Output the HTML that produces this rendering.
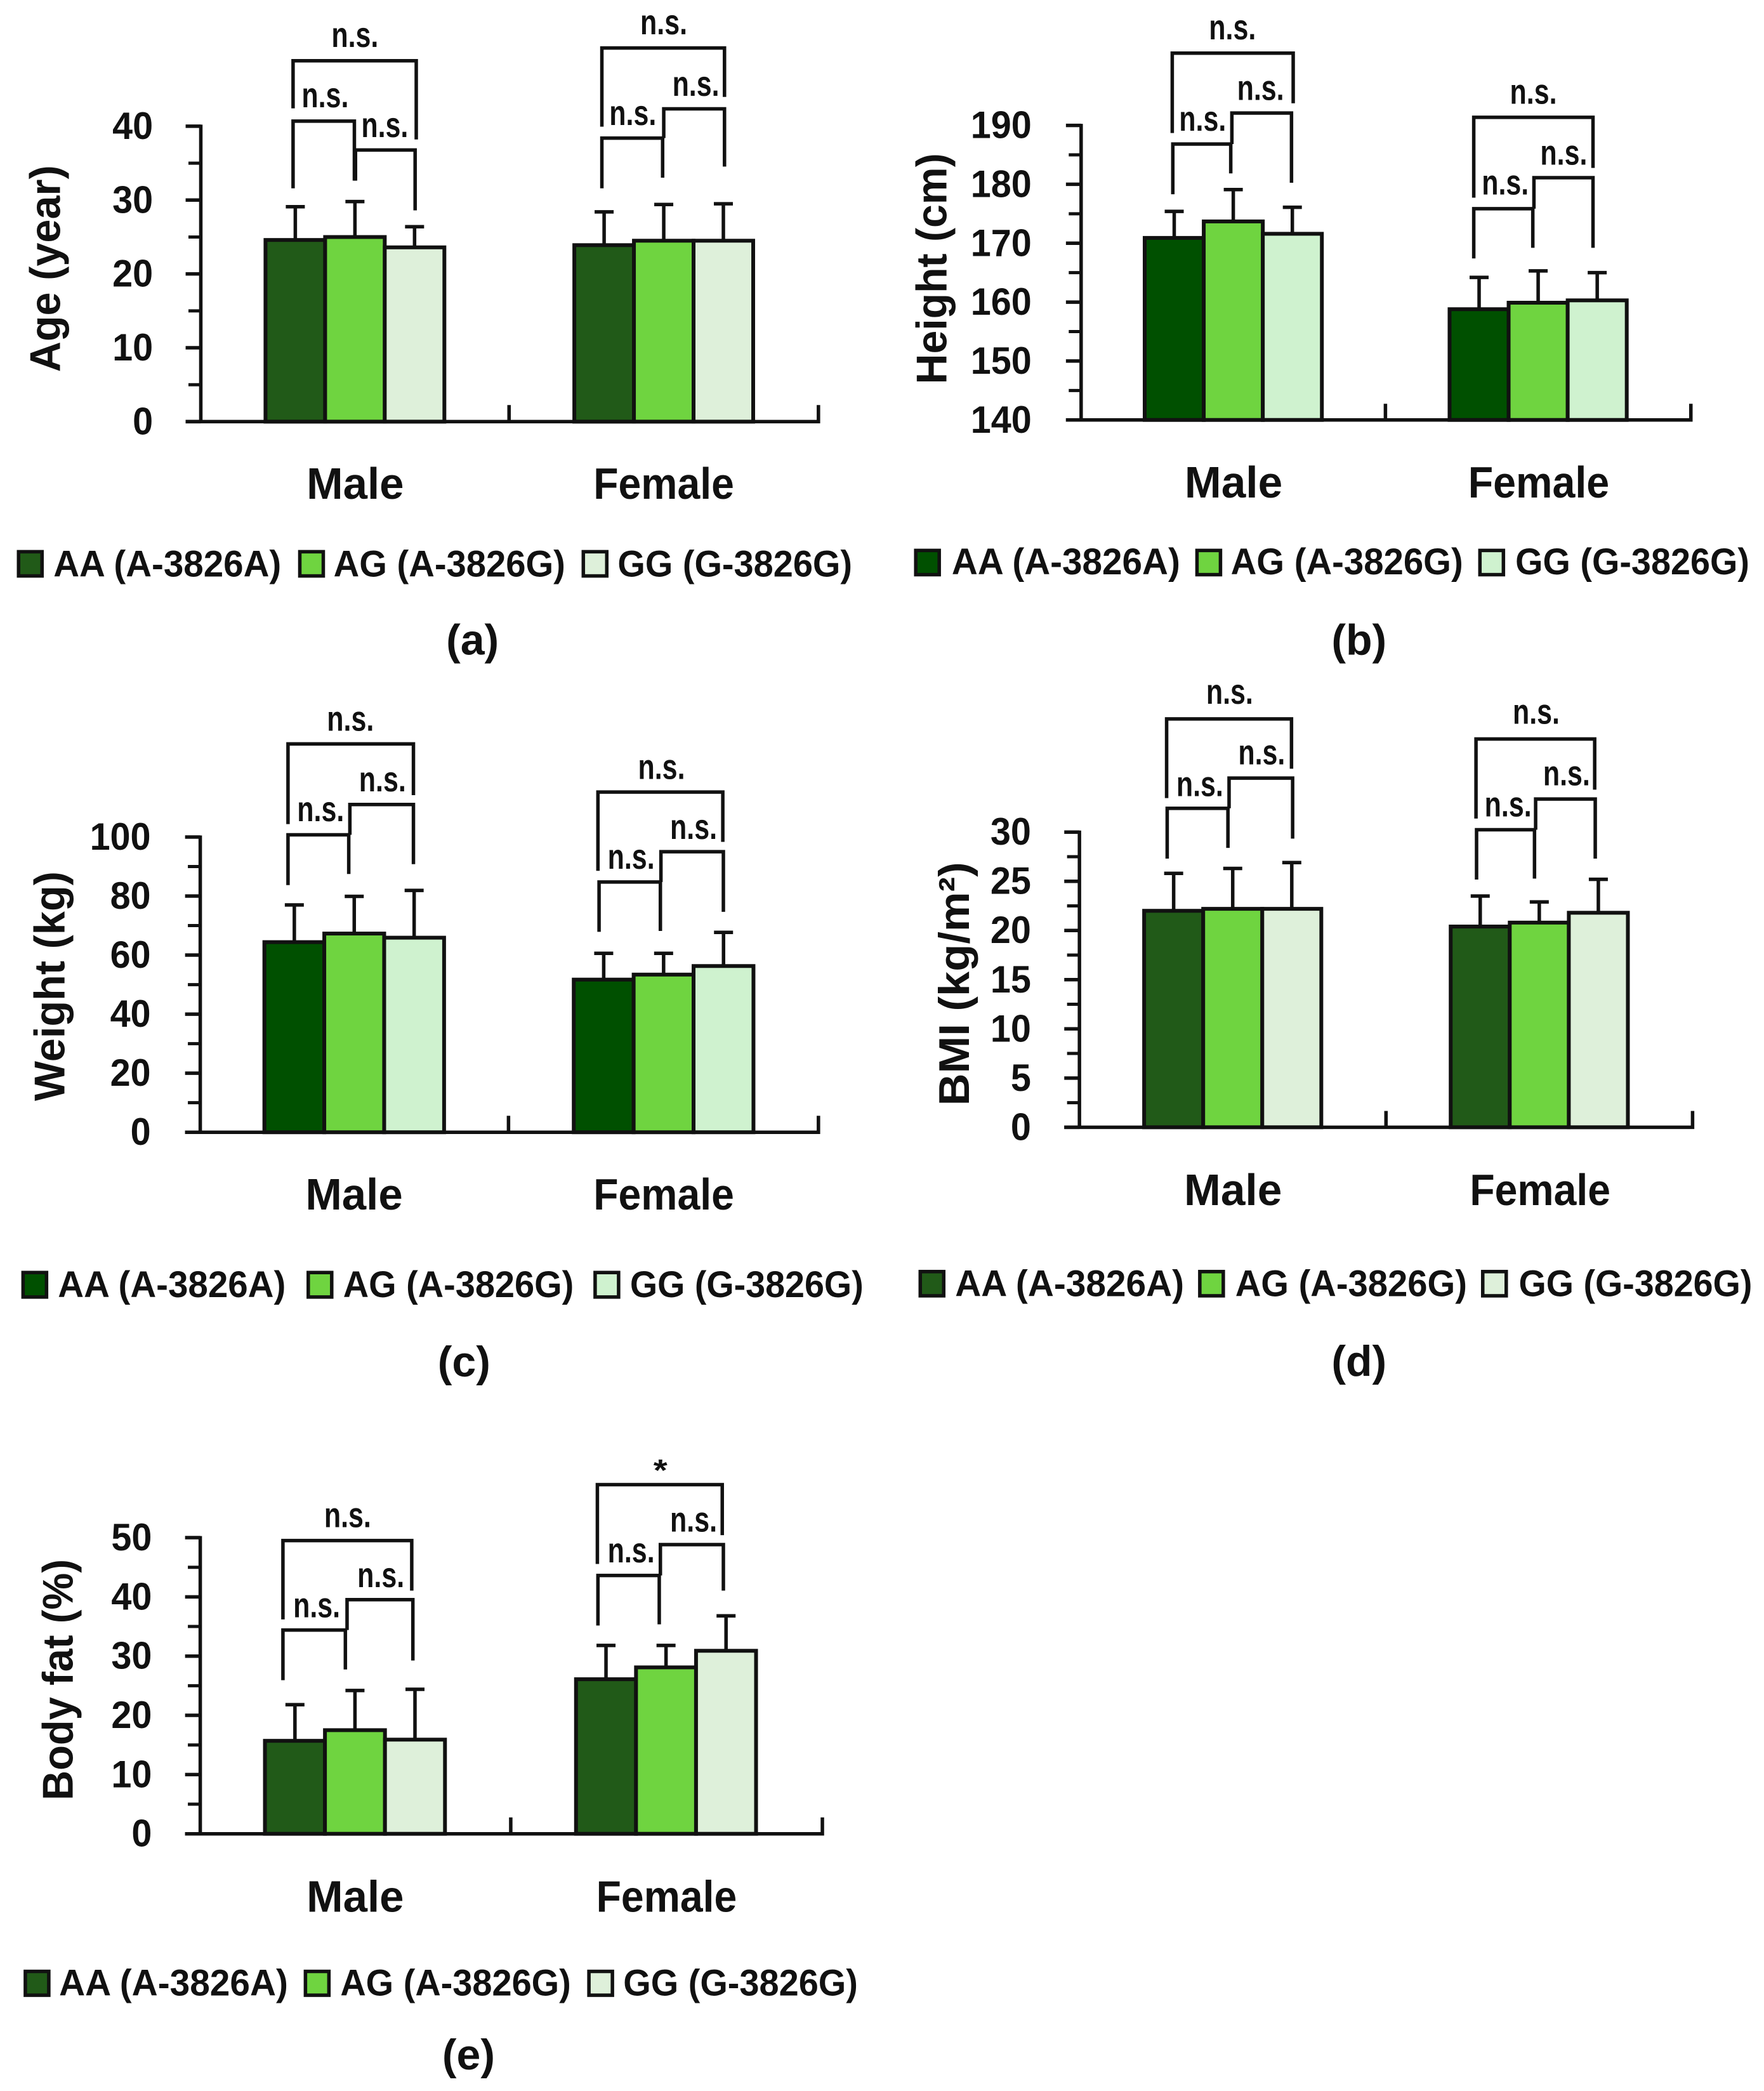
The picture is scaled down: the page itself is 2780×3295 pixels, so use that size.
<!DOCTYPE html>
<html lang="en">
<head>
<meta charset="utf-8">
<title>Body composition by genotype and sex</title>
<style>
html,body{margin:0;padding:0;background:#fff;}
svg{display:block;}
text{font-family:"Liberation Sans",Arial,sans-serif;font-weight:bold;fill:#111;}
</style>
</head>
<body>
<svg id="figure" xmlns="http://www.w3.org/2000/svg" width="2780" height="3295" viewBox="0 0 2780 3295"></svg>
<script>
/* ---------- chart data ---------- */
const groups = ['Male', 'Female'];
const seriesNames = ['AA (A-3826A)', 'AG (A-3826G)', 'GG (G-3826G)'];

const ageTicks = [0, 10, 20, 30, 40];
const ageMale = [24.6, 25.0, 23.6];
const ageFemale = [23.9, 24.5, 24.5];
const ageMaleUpper = [29.1, 29.8, 26.4];
const ageFemaleUpper = [28.4, 29.4, 29.5];

const heightTicks = [140, 150, 160, 170, 180, 190];
const heightMale = [170.9, 173.7, 171.6];
const heightFemale = [158.8, 159.9, 160.3];
const heightMaleUpper = [175.4, 179.1, 176.1];
const heightFemaleUpper = [164.2, 165.3, 165.0];

const weightTicks = [0, 20, 40, 60, 80, 100];
const weightMale = [64.4, 67.3, 65.9];
const weightFemale = [51.7, 53.4, 56.3];
const weightMaleUpper = [77.0, 79.9, 81.9];
const weightFemaleUpper = [60.6, 60.6, 67.7];

const bmiTicks = [0, 5, 10, 15, 20, 25, 30];
const bmiMale = [22.0, 22.2, 22.2];
const bmiFemale = [20.4, 20.8, 21.8];
const bmiMaleUpper = [25.8, 26.3, 26.9];
const bmiFemaleUpper = [23.5, 22.9, 25.2];

const fatTicks = [0, 10, 20, 30, 40, 50];
const fatMale = [15.7, 17.5, 15.9];
const fatFemale = [26.1, 28.1, 30.9];
const fatMaleUpper = [21.8, 24.2, 24.4];
const fatFemaleUpper = [31.8, 31.8, 36.8];

/* ---------- layout (separate from data) ---------- */
const darkPalette = ['#005000', '#6fd440', '#cff2cf'];
const softPalette = ['#215a18', '#6fd440', '#def0da'];

const panels = [
  {id:'age', letter:'(a)', title:'Age (year)', ox:0, oy:0, fy:1.493, palette:softPalette,
   ticks:ageTicks, means:[ageMale, ageFemale], uppers:[ageMaleUpper, ageFemaleUpper],
   axisX:357, base:992, top:297, right:1455, mid:905, tickUp:953, bandStart:[472, 1021], bandW:106,
   titleX:85, titleY:632, titleLen:326, labelRight:272,
   groupBox:[[545,718,1136],[1055,1305,1136]],
   swatch:[33,533,1037], swatchY:[1298,1355], legendText:[[95,500],[593,1005],[1098,1515]], legendY:1325,
   letterX:840, letterY:1507,
   brackets:[[521,740,143,255,328],[521,630,285,443,425],[632,738,353,425,495],
             [1070,1288,113,298,228],[1070,1178,325,443,418],[1180,1288,256,325,392]],
   notes:[[631,88,'n.s.'],[578,230,'n.s.'],[684,300,'n.s.'],[1180,58,'n.s.'],[1125,272,'n.s.'],[1237,203,'n.s.']]},
  {id:'height', letter:'(b)', title:'Height (cm)', ox:1390, oy:0, fy:1.493, palette:darkPalette,
   ticks:heightTicks, means:[heightMale, heightFemale], uppers:[heightMaleUpper, heightFemaleUpper],
   axisX:354, base:988, top:295, right:1438, mid:895, tickUp:950, bandStart:[467, 1009], bandW:105,
   titleX:93, titleY:632, titleLen:364, labelRight:266,
   groupBox:[[538,712,1133],[1042,1293,1133]],
   swatch:[60,560,1063], swatchY:[1295,1352], legendText:[[124,530],[620,1033],[1126,1542]], legendY:1320,
   letterX:848, letterY:1507,
   brackets:[[516,731,125,313,243],[517,620,339,457,408],[622,728,266,339,430],
             [1052,1264,276,465,395],[1052,1157,491,608,583],[1159,1264,418,491,583]],
   notes:[[623,70,'n.s.'],[570,285,'n.s.'],[673,213,'n.s.'],[1158,222,'n.s.'],[1108,435,'n.s.'],[1212,365,'n.s.']]},
  {id:'weight', letter:'(c)', title:'Weight (kg)', ox:0, oy:1100, fy:1.425, palette:darkPalette,
   ticks:weightTicks, means:[weightMale, weightFemale], uppers:[weightMaleUpper, weightFemaleUpper],
   axisX:356, base:975, top:312, right:1455, mid:904, tickUp:938, bandStart:[470, 1020], bandW:106.5,
   titleX:93, titleY:647, titleLen:362, labelRight:268,
   groupBox:[[543,716,1113],[1055,1305,1113]],
   swatch:[41,548,1058], swatchY:[1290,1345], legendText:[[103,508],[610,1020],[1120,1535]], legendY:1315,
   letterX:825, letterY:1492,
   brackets:[[512,735,103,283,218],[512,620,307,420,395],[622,735,239,307,373],
             [1063,1285,211,388,323],[1065,1174,413,525,523],[1175,1286,345,413,480]],
   notes:[[623,52,'n.s.'],[570,255,'n.s.'],[680,188,'n.s.'],[1176,160,'n.s.'],[1122,362,'n.s.'],[1233,295,'n.s.']]},
  {id:'bmi', letter:'(d)', title:'BMI (kg/m²)', ox:1390, oy:1050, fy:1.363, palette:softPalette,
   ticks:bmiTicks, means:[bmiMale, bmiFemale], uppers:[bmiMaleUpper, bmiFemaleUpper],
   axisX:351, base:990, top:356, right:1441, mid:896, tickUp:955, bandStart:[466, 1011], bandW:105,
   titleX:133, titleY:682, titleLen:384, labelRight:265,
   groupBox:[[537,711,1123],[1045,1295,1123]],
   swatch:[68,565,1068], swatchY:[1300,1352], legendText:[[130,537],[628,1040],[1132,1547]], legendY:1324,
   letterX:848, letterY:1494,
   brackets:[[506,728,113,283,220],[507,615,305,413,390],[617,730,240,305,370],
             [1056,1267,156,327,265],[1057,1160,351,458,456],[1162,1268,285,351,413]],
   notes:[[618,60,'n.s.'],[565,258,'n.s.'],[675,190,'n.s.'],[1163,103,'n.s.'],[1113,302,'n.s.'],[1217,235,'n.s.']]},
  {id:'body-fat', letter:'(e)', title:'Body fat (%)', ox:0, oy:2280, fy:1.545, palette:softPalette,
   ticks:fatTicks, means:[fatMale, fatFemale], uppers:[fatMaleUpper, fatFemaleUpper],
   axisX:356, base:942, top:221, right:1462, mid:908, tickUp:902, bandStart:[471, 1024], bandW:106.7,
   titleX:108, titleY:567, titleLen:380, labelRight:270,
   groupBox:[[545,718,1093],[1060,1310,1093]],
   swatch:[45,543,1047], swatchY:[1277,1335], legendText:[[105,512],[605,1015],[1108,1525]], legendY:1303,
   letterX:833, letterY:1482,
   brackets:[[503,732,228,420,350],[503,614,446,568,542],[617,734,372,446,520],
             [1062,1284,92,285,215],[1063,1172,313,435,432],[1174,1286,238,313,350]],
   notes:[[618,172,'n.s.'],[563,392,'n.s.'],[677,318,'n.s.'],[1174,48,'*'],[1122,258,'n.s.'],[1233,183,'n.s.']]}
];

/* ---------- drawing ---------- */
const NS = 'http://www.w3.org/2000/svg';
const FX = 1568 / 1390;
const INK = '#111';
const fig = document.getElementById('figure');

function mk(tag, attrs, parent) {
  const node = document.createElementNS(NS, tag);
  for (const k in attrs) node.setAttribute(k, attrs[k]);
  parent.appendChild(node);
  return node;
}

function drawPanel(p) {
  const X = z => p.ox + z / FX;
  const Y = z => p.oy + z / p.fy;
  const vMin = p.ticks[0];
  const vMax = p.ticks[p.ticks.length - 1];
  const yScale = v => Y(p.base) - (v - vMin) / (vMax - vMin) * (Y(p.base) - Y(p.top));
  const xBand = (g, s) => X(p.bandStart[g] + s * p.bandW);

  const panel = mk('g', {}, fig);
  
  

  // bars and error bars
  groups.forEach((group, g) => {
    p.means[g].forEach((value, s) => {
      const x0 = xBand(g, s);
      const x1 = xBand(g, s + 1);
      const cx = (x0 + x1) / 2;
      const errLine = mk('path', {
        d: 'M' + cx + ' ' + yScale(value) + 'V' + yScale(p.uppers[g][s]) + 'M' + (cx - 15) + ' ' + yScale(p.uppers[g][s]) + 'H' + (cx + 15),
        fill: 'none', stroke: INK, 'stroke-width': 5.5
      }, panel);
      
      
      const bar = mk('rect', {
        x: x0, y: yScale(value), width: x1 - x0, height: yScale(vMin) - yScale(value),
        fill: p.palette[s], stroke: INK, 'stroke-width': 6
      }, panel);
      
      
    });
  });

  // y axis
  const yAxis = mk('line', {x1: X(p.axisX), x2: X(p.axisX), y1: Y(p.top) - 2.5, y2: Y(p.base) + 2.5, stroke: INK, 'stroke-width': 5.5}, panel);
  
  

  // x axis
  const xAxis = mk('path', {
    d: 'M' + X(p.axisX - 27) + ' ' + Y(p.base) + 'H' + X(p.right) + 'V' + Y(p.tickUp) + 'M' + X(p.mid) + ' ' + Y(p.base) + 'V' + Y(p.tickUp),
    fill: 'none', stroke: INK, 'stroke-width': 5.5
  }, panel);
  
  

  // ticks
  p.ticks.forEach((t, i) => {
    const major = mk('line', {x1: X(p.axisX - 27), x2: X(p.axisX), y1: yScale(t), y2: yScale(t), stroke: INK, 'stroke-width': 5.5}, panel);
    
    

    const label = String(t);
    const tl = mk('text', {
      x: X(p.labelRight), y: yScale(t) + 20, 'text-anchor': 'end', 'font-size': 60,
      textLength: label.length * 32, lengthAdjust: 'spacingAndGlyphs'
    }, panel);
    tl.textContent = label;
    
    

    if (i < p.ticks.length - 1) {
      const my = (yScale(t) + yScale(p.ticks[i + 1])) / 2;
      const minor = mk('line', {x1: X(p.axisX - 22), x2: X(p.axisX), y1: my, y2: my, stroke: INK, 'stroke-width': 5}, panel);
      
      
    }
  });

  // y title
  const tx = X(p.titleX) + 19;
  const ty = p.oy + p.titleY / p.fy;
  const title = mk('text', {
    x: tx, y: ty, 'text-anchor': 'middle', 'font-size': 68,
    textLength: p.titleLen, lengthAdjust: 'spacingAndGlyphs',
    transform: 'rotate(-90 ' + tx + ' ' + ty + ')'
  }, panel);
  title.textContent = p.title;
  
  

  // category labels
  groups.forEach((group, g) => {
    const box = p.groupBox[g];
    const cat = mk('text', {
      x: X(box[0]), y: Y(box[2]) + 25, 'font-size': 70,
      textLength: (box[1] - box[0]) / FX, lengthAdjust: 'spacingAndGlyphs'
    }, panel);
    cat.textContent = group;
    
    
  });

  // significance brackets
  p.brackets.forEach(b => {
    const br = mk('path', {
      d: 'M' + X(b[0]) + ' ' + Y(b[3]) + 'V' + Y(b[2]) + 'H' + X(b[1]) + 'V' + Y(b[4]),
      fill: 'none', stroke: INK, 'stroke-width': 5.5
    }, panel);
    
    
  });
  p.notes.forEach(n => {
    const star = n[2] === '*';
    const note = mk('text', {
      x: X(n[0]), y: Y(n[1]) + (star ? 22 : 15), 'text-anchor': 'middle', 'font-size': star ? 48 : 56,
      textLength: star ? 22 : 74, lengthAdjust: 'spacingAndGlyphs'
    }, panel);
    note.textContent = n[2];
    
    
  });

  // legend
  seriesNames.forEach((name, s) => {
    const sw = mk('rect', {
      x: X(p.swatch[s]), y: Y(p.swatchY[0]), width: 37, height: (p.swatchY[1] - p.swatchY[0]) / p.fy,
      fill: p.palette[s], stroke: INK, 'stroke-width': 5.5
    }, panel);
    
    
    const span = p.legendText[s];
    const lt = mk('text', {
      x: X(span[0]), y: Y(p.legendY) + 21, 'font-size': 58,
      textLength: (span[1] - span[0]) / FX, lengthAdjust: 'spacingAndGlyphs'
    }, panel);
    lt.textContent = name;
    
    
  });

  // panel letter
  const letter = mk('text', {x: X(p.letterX), y: Y(p.letterY) + 22, 'text-anchor': 'middle', 'font-size': 68}, panel);
  letter.textContent = p.letter;
  
  
}

panels.forEach(drawPanel);
</script>
</body>
</html>
